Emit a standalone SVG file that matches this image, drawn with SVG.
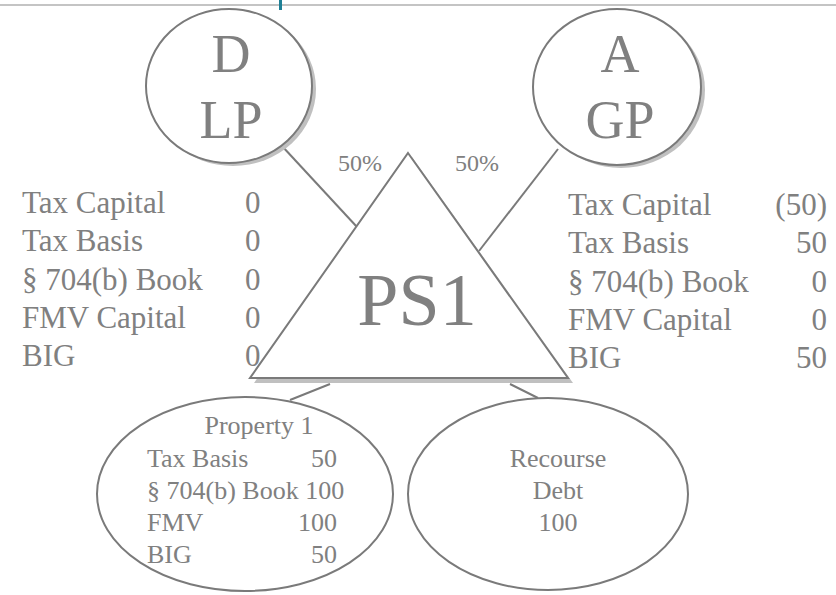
<svg xmlns="http://www.w3.org/2000/svg" width="836" height="595" viewBox="0 0 836 595">
  <style>
    .outline { fill: #ffffff; stroke: #7a7a7a; stroke-width: 2; }
    .shadow { fill: #c0c0c0; stroke: none; }
    .link { stroke: #7a7a7a; stroke-width: 2; fill: none; }
    text { font-family: "Liberation Serif", "Times New Roman", serif; fill: #808080; }
    .big { font-size: 54px; text-anchor: middle; }
    .ps { font-size: 74px; text-anchor: middle; }
    .pct { font-size: 24px; }
    .tbl { font-size: 31px; }
    .sub { font-size: 26px; }
    .mid { text-anchor: middle; }
    .end { text-anchor: end; }
  </style>

  <!-- header rule -->
  <rect x="0" y="4" width="836" height="2" fill="#c4c4c4"/>
  <rect x="279" y="0" width="3" height="10" fill="#1e7f95"/>

  <!-- connectors -->
  <g id="connectors">
    <line class="link" x1="282" y1="146" x2="357" y2="227"/>
    <line class="link" x1="558" y1="149" x2="479" y2="251"/>
    <line class="link" x1="290" y1="400" x2="330" y2="384"/>
    <line class="link" x1="510" y1="384" x2="538" y2="398"/>
  </g>

  <!-- limited partner D -->
  <g id="partner-d">
    <ellipse class="shadow" cx="233" cy="89" rx="83" ry="77"/>
    <ellipse class="outline" cx="229" cy="86" rx="83" ry="77"/>
    <text class="big" x="231" y="72">D</text>
    <text class="big" x="231" y="138">LP</text>
  </g>

  <!-- general partner A -->
  <g id="partner-a">
    <ellipse class="shadow" cx="621" cy="90" rx="84" ry="78"/>
    <ellipse class="outline" cx="617" cy="87" rx="84" ry="78"/>
    <text class="big" x="620" y="72">A</text>
    <text class="big" x="620" y="138">GP</text>
  </g>

  <!-- partnership PS1 -->
  <g id="ps1">
    <polygon class="shadow" points="412,157 573,383 254,383"/>
    <polygon class="outline" points="408,153 568,378 250,378"/>
    <text class="ps" x="417" y="325">PS1</text>
  </g>

  <!-- ownership percentages -->
  <g id="pct-labels">
    <text class="pct" x="338" y="171">50%</text>
    <text class="pct" x="455" y="171">50%</text>
  </g>

  <!-- D capital account table -->
  <g id="d-table">
    <text class="tbl" x="22" y="213">Tax Capital</text>
    <text class="tbl" x="22" y="251">Tax Basis</text>
    <text class="tbl" x="22" y="290">§ 704(b) Book</text>
    <text class="tbl" x="22" y="328">FMV Capital</text>
    <text class="tbl" x="22" y="366">BIG</text>
    <text class="tbl" x="245" y="213">0</text>
    <text class="tbl" x="245" y="251">0</text>
    <text class="tbl" x="245" y="290">0</text>
    <text class="tbl" x="245" y="328">0</text>
    <text class="tbl" x="245" y="366">0</text>
  </g>

  <!-- A capital account table -->
  <g id="a-table">
    <text class="tbl" x="568" y="215">Tax Capital</text>
    <text class="tbl" x="568" y="253">Tax Basis</text>
    <text class="tbl" x="568" y="292">§ 704(b) Book</text>
    <text class="tbl" x="568" y="330">FMV Capital</text>
    <text class="tbl" x="568" y="368">BIG</text>
    <text class="tbl end" x="827" y="215">(50)</text>
    <text class="tbl end" x="827" y="253">50</text>
    <text class="tbl end" x="827" y="292">0</text>
    <text class="tbl end" x="827" y="330">0</text>
    <text class="tbl end" x="827" y="368">50</text>
  </g>

  <!-- property held by PS1 -->
  <g id="property-1">
    <ellipse class="outline" cx="245" cy="494" rx="148" ry="97"/>
    <text class="sub mid" x="259" y="434">Property 1</text>
    <text class="sub" x="147" y="467">Tax Basis</text>
    <text class="sub end" x="337" y="467">50</text>
    <text class="sub" x="147" y="499">§ 704(b) Book 100</text>
    <text class="sub" x="147" y="531">FMV</text>
    <text class="sub end" x="337" y="531">100</text>
    <text class="sub" x="147" y="563">BIG</text>
    <text class="sub end" x="337" y="563">50</text>
  </g>

  <!-- PS1 liability -->
  <g id="recourse-debt">
    <ellipse class="outline" cx="548" cy="494" rx="140" ry="96"/>
    <text class="sub mid" x="558" y="467">Recourse</text>
    <text class="sub mid" x="558" y="499">Debt</text>
    <text class="sub mid" x="558" y="531">100</text>
  </g>
</svg>
